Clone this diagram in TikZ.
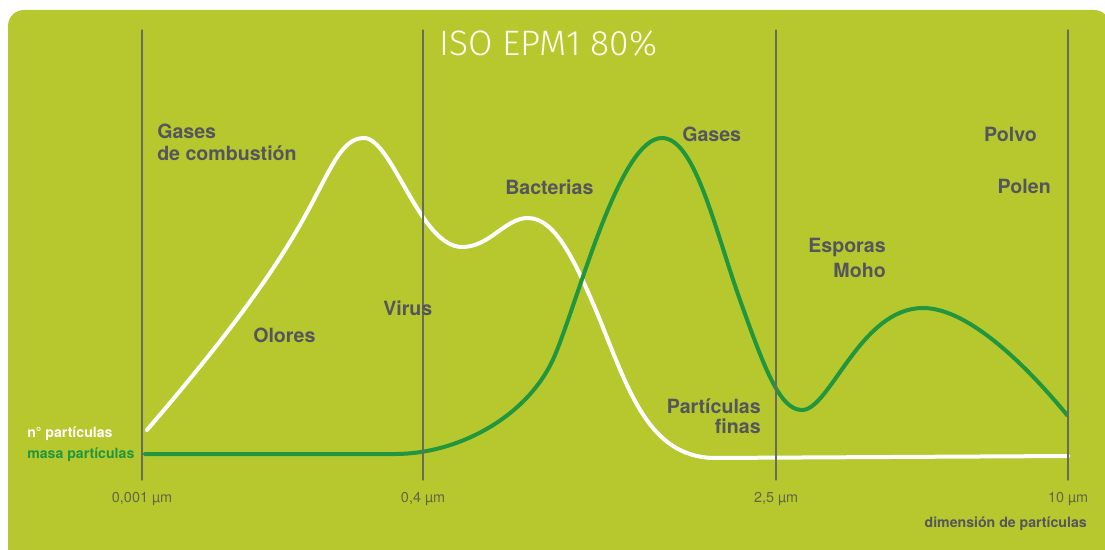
\documentclass[tikz,border=0pt]{standalone}
\usepackage{fontspec}
\setmainfont{TeX Gyre Heros}
\newfontfamily\titlefont{Fira Sans Light}

\definecolor{panelgreen}{RGB}{182,200,46}
\definecolor{massgreen}{RGB}{34,150,62}
\definecolor{labelgray}{RGB}{85,85,92}
\definecolor{tickgray}{RGB}{98,102,70}
\definecolor{linegray}{RGB}{105,108,88}

\tikzset{
	lab/.style={text=labelgray, font=\bfseries\fontsize{14.7}{17}\selectfont, inner sep=0pt},
	ticklab/.style={text=tickgray, font=\fontsize{10.8}{13}\selectfont, inner sep=0pt, anchor=base},
	keylab/.style={font=\bfseries\fontsize{10.6}{12}\selectfont, inner sep=0pt, anchor=base west},
	curve/.style={line width=3pt}
}

\newcommand{\sizeline}[3]
{\draw[linegray, line width=0.9pt] (#1,30) -- (#1,480);
	\node[ticklab] (#3) at (#1,502) {#2};
}

\begin{document}
\begin{tikzpicture}[x=0.75pt,y=-0.75pt, line cap=round]
\useasboundingbox (0,0) rectangle (1105,549);
\fill[white] (0,0) rectangle (1105,549);
\fill[panelgreen, rounded corners=12pt] (8,10) rectangle (1110,575);

% particle number
\draw[curve, white] (147,430) .. controls (200,368) and (260,295) .. (300,225)
	.. controls (330,172.5) and (340,138) .. (364,138)
	.. controls (392,138) and (420,247) .. (462,247)
	.. controls (490,247) and (505,218) .. (528,218)
	.. controls (555,218) and (575,260) .. (600,320)
	.. controls (630,395) and (650,455) .. (712,458) -- (1068,456);
% particle mass
\draw[curve, massgreen] (145,454) -- (395,454)
	.. controls (460,454) and (530,415) .. (555,355)
	.. controls (580,295) and (620,138) .. (662,138)
	.. controls (695,138) and (715,230) .. (740,300)
	.. controls (765,370) and (780,410) .. (802,410)
	.. controls (830,410) and (860,308) .. (923,308)
	.. controls (970,308) and (1030,370) .. (1067,415);

\sizeline{142}{0,001 µm}{tA}
\sizeline{423}{0,4 µm}{tB}
\sizeline{776}{2,5 µm}{tC}
\sizeline{1068}{10 µm}{tD}

\node[text=white!95!yellow, font=\titlefont\fontsize{26.5}{30}\selectfont, inner sep=0pt, anchor=base west] (title) at (439,56) {ISO EPM1 80\%};

\node[lab, anchor=base west] (gasesA) at (157,139) {Gases};
\node[lab, anchor=base west] (gasesB) at (157,161) {de combustión};
\node[lab, anchor=base west] (olores) at (253,342) {Olores};
\node[lab, anchor=base west] (virus) at (383,315) {Virus};
\node[lab, anchor=base west] (bacterias) at (505,194) {Bacterias};
\node[lab, anchor=base west] (gases) at (682,142) {Gases};
\node[lab, anchor=base east] (polvo) at (1037,142) {Polvo};
\node[lab, anchor=base east] (polen) at (1051,193) {Polen};
\node[lab, anchor=base east] (esporas) at (886,252) {Esporas};
\node[lab, anchor=base east] (moho) at (886,277) {Moho};
\node[lab, anchor=base east] (finasA) at (761,413) {Partículas};
\node[lab, anchor=base east] (finasB) at (761,433) {finas};

\node[keylab, white] (numero) at (27,437) {n° partículas};
\node[keylab, massgreen] (masa) at (27,458) {masa partículas};
\node[keylab, labelgray, anchor=base east] (dimension) at (1087,527) {dimensión de partículas};

\end{tikzpicture}
\end{document}
